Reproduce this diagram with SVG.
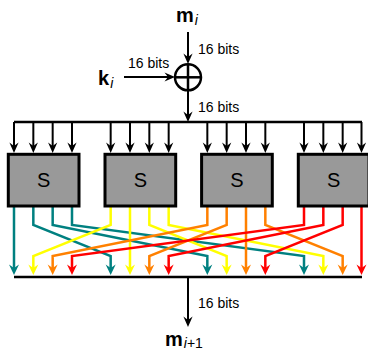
<svg xmlns="http://www.w3.org/2000/svg" width="368" height="352" viewBox="0 0 368 352">
<style>
text{font-family:"Liberation Sans",Arial,sans-serif;fill:#000}
.lbl{font-size:14px}
.big{font-size:20px;font-weight:bold}
.sub{font-size:14px;font-weight:normal}
.box{fill:#999999;stroke:#000;stroke-width:3}
.blk{fill:none;stroke:#000;stroke-width:2}
.bus{fill:none;stroke:#000;stroke-width:2.5}
.w{fill:none;stroke-width:2.5;stroke-linejoin:miter}
.t{stroke:#008080}.y{stroke:#ffff00}.o{stroke:#ff8000}.r{stroke:#ff0000}
</style>
<defs>
<marker id="ak" viewBox="-6 -6 13 12" markerWidth="13" markerHeight="12" refX="0" refY="0" orient="auto" markerUnits="userSpaceOnUse"><path d="M6,0 L-4.5,-4.6 L-1,0 L-4.5,4.6 Z" fill="#000"/></marker>
<marker id="at" viewBox="-6 -6 13 12" markerWidth="13" markerHeight="12" refX="0" refY="0" orient="auto" markerUnits="userSpaceOnUse"><path d="M6,0 L-4.5,-5 L-1,0 L-4.5,5 Z" fill="#008080"/></marker>
<marker id="ay" viewBox="-6 -6 13 12" markerWidth="13" markerHeight="12" refX="0" refY="0" orient="auto" markerUnits="userSpaceOnUse"><path d="M6,0 L-4.5,-5 L-1,0 L-4.5,5 Z" fill="#ffff00"/></marker>
<marker id="ao" viewBox="-6 -6 13 12" markerWidth="13" markerHeight="12" refX="0" refY="0" orient="auto" markerUnits="userSpaceOnUse"><path d="M6,0 L-4.5,-5 L-1,0 L-4.5,5 Z" fill="#ff8000"/></marker>
<marker id="ar" viewBox="-6 -6 13 12" markerWidth="13" markerHeight="12" refX="0" refY="0" orient="auto" markerUnits="userSpaceOnUse"><path d="M6,0 L-4.5,-5 L-1,0 L-4.5,5 Z" fill="#ff0000"/></marker>
</defs>

<g id="connectors">
<line class="blk" x1="188" y1="32" x2="188" y2="58" marker-end="url(#ak)"/>
<line class="blk" x1="124" y1="77" x2="169" y2="77" marker-end="url(#ak)"/>
<line class="blk" x1="188" y1="91" x2="188" y2="116" marker-end="url(#ak)"/>
<line class="bus" x1="14" y1="122" x2="362" y2="122"/>
<g id="in-arrows">
<path class="blk" marker-end="url(#ak)" d="M14,122V147"/>
<path class="blk" marker-end="url(#ak)" d="M33.33,122V147"/>
<path class="blk" marker-end="url(#ak)" d="M52.67,122V147"/>
<path class="blk" marker-end="url(#ak)" d="M72,122V147"/>
<path class="blk" marker-end="url(#ak)" d="M110.67,122V147"/>
<path class="blk" marker-end="url(#ak)" d="M130,122V147"/>
<path class="blk" marker-end="url(#ak)" d="M149.33,122V147"/>
<path class="blk" marker-end="url(#ak)" d="M168.67,122V147"/>
<path class="blk" marker-end="url(#ak)" d="M207.33,122V147"/>
<path class="blk" marker-end="url(#ak)" d="M226.67,122V147"/>
<path class="blk" marker-end="url(#ak)" d="M246,122V147"/>
<path class="blk" marker-end="url(#ak)" d="M265.33,122V147"/>
<path class="blk" marker-end="url(#ak)" d="M304,122V147"/>
<path class="blk" marker-end="url(#ak)" d="M323.33,122V147"/>
<path class="blk" marker-end="url(#ak)" d="M342.67,122V147"/>
<path class="blk" marker-end="url(#ak)" d="M361.5,122V147"/>
</g>
<g id="permutation">
<path class="w t" marker-end="url(#at)" d="M14,206V269"/>
<path class="w t" marker-end="url(#at)" d="M33.33,206V225L110.67,256V269"/>
<path class="w t" marker-end="url(#at)" d="M52.67,206V225L207.33,256V269"/>
<path class="w t" marker-end="url(#at)" d="M72,206V225L304,256V269"/>
<path class="w y" marker-end="url(#ay)" d="M110.67,206V225L33.33,256V269"/>
<path class="w y" marker-end="url(#ay)" d="M130,206V269"/>
<path class="w y" marker-end="url(#ay)" d="M149.33,206V225L226.67,256V269"/>
<path class="w y" marker-end="url(#ay)" d="M168.67,206V225L323.33,256V269"/>
<path class="w o" marker-end="url(#ao)" d="M207.33,206V225L52.67,256V269"/>
<path class="w o" marker-end="url(#ao)" d="M226.67,206V225L149.33,256V269"/>
<path class="w o" marker-end="url(#ao)" d="M246,206V269"/>
<path class="w o" marker-end="url(#ao)" d="M265.33,206V225L342.67,256V269"/>
<path class="w r" marker-end="url(#ar)" d="M304,206V225L72,256V269"/>
<path class="w r" marker-end="url(#ar)" d="M323.33,206V225L168.67,256V269"/>
<path class="w r" marker-end="url(#ar)" d="M342.67,206V225L265.33,256V269"/>
<path class="w r" marker-end="url(#ar)" d="M361.5,206V269"/>
</g>
<line class="bus" x1="14" y1="277" x2="362" y2="277"/>
<line class="blk" x1="188" y1="277" x2="188" y2="321" marker-end="url(#ak)"/>
</g>

<g id="labels">
<text class="lbl" x="198" y="54">16 bits</text>
<text class="lbl" x="128" y="68">16 bits</text>
<text class="lbl" x="198" y="112">16 bits</text>
<text class="lbl" x="198" y="308">16 bits</text>
</g>

<g id="m_i"><text class="big" x="176" y="22">m<tspan class="sub" font-style="italic" dx="1" dy="3">i</tspan></text></g>
<g id="k_i"><text class="big" x="98" y="85">k<tspan class="sub" font-style="italic" dx="1" dy="3">i</tspan></text></g>
<g id="xor">
<circle cx="188" cy="77.3" r="13" fill="none" stroke="#000" stroke-width="2.5"/>
<line x1="175" y1="77.3" x2="201" y2="77.3" stroke="#000" stroke-width="2.5"/>
<line x1="188" y1="64.3" x2="188" y2="90.3" stroke="#000" stroke-width="2.5"/>
</g>
<g id="sbox1"><rect class="box" x="8.3" y="154.3" width="70.7" height="51.7"/><text x="43.7" y="187" font-size="20" text-anchor="middle">S</text></g>
<g id="sbox2"><rect class="box" x="105" y="154.3" width="70.7" height="51.7"/><text x="140.3" y="187" font-size="20" text-anchor="middle">S</text></g>
<g id="sbox3"><rect class="box" x="201.6" y="154.3" width="70.7" height="51.7"/><text x="237" y="187" font-size="20" text-anchor="middle">S</text></g>
<g id="sbox4"><rect class="box" x="298.3" y="154.3" width="70.7" height="51.7"/><text x="333.7" y="187" font-size="20" text-anchor="middle">S</text></g>
<g id="m_i1"><text class="big" x="165" y="346">m<tspan class="sub" dx="1" dy="2"><tspan font-style="italic">i</tspan>+1</tspan></text></g>
</svg>
